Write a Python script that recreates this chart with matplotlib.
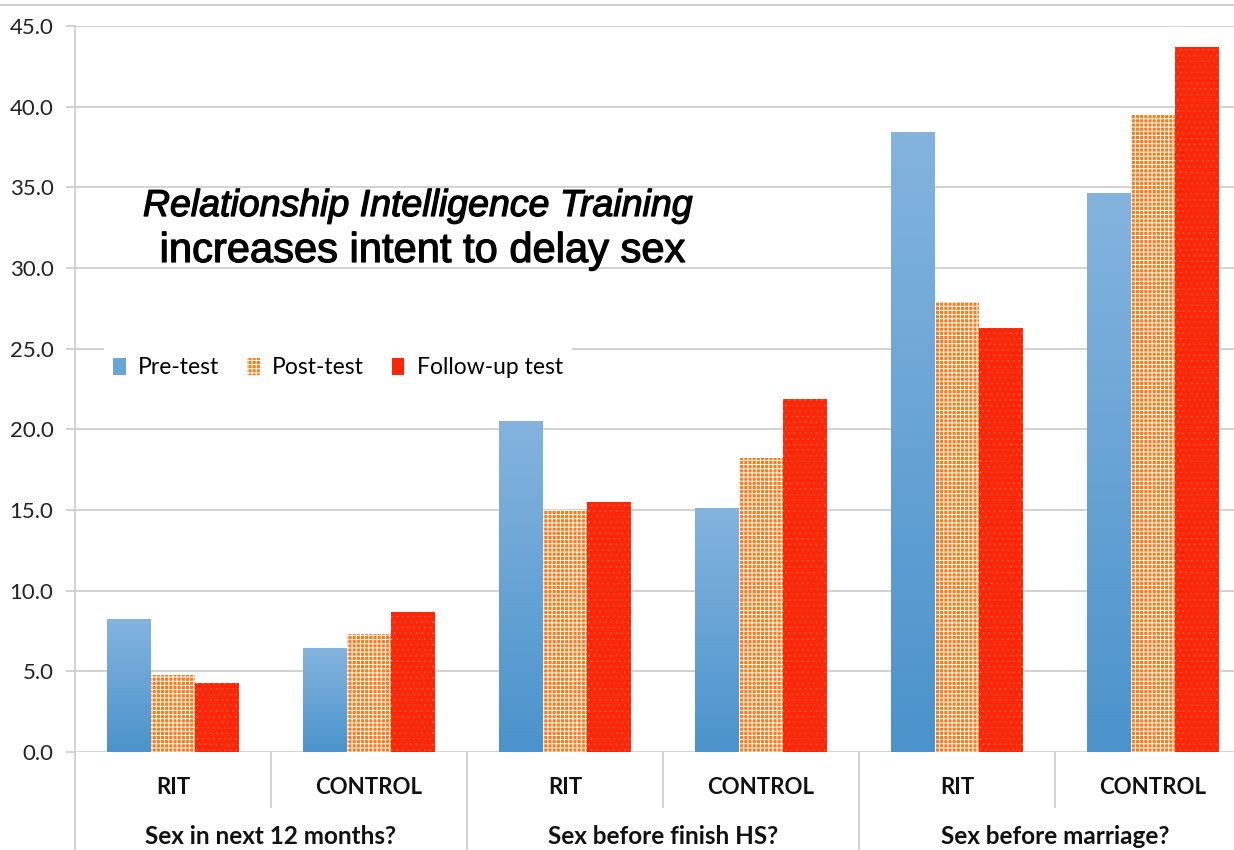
import numpy as np
import matplotlib
import matplotlib.pyplot as plt
from matplotlib.colors import LinearSegmentedColormap
from matplotlib.patches import Patch
from matplotlib.lines import Line2D
import matplotlib.transforms as mtransforms
import matplotlib.patheffects as pe

# values
groups = ["RIT", "CONTROL", "RIT", "CONTROL", "RIT", "CONTROL"]
questions = ["Sex in next 12 months?", "Sex before finish HS?", "Sex before marriage?"]
series = ["Pre-test", "Post-test", "Follow-up test"]
pre_test = [8.2, 6.4, 20.5, 15.1, 38.4, 34.6]
post_test = [4.8, 7.3, 15.0, 18.2, 27.9, 39.5]
follow_up = [4.3, 8.7, 15.5, 21.9, 26.3, 43.7]
y_ticks = [0, 5, 10, 15, 20, 25, 30, 35, 40, 45]

plt.rcParams['font.family'] = ['Lato', 'DejaVu Sans']
plt.rcParams['hatch.linewidth'] = 0.7

fig = plt.figure(figsize=(12.34, 8.5), dpi=100)
ax = fig.add_axes([75/1234, 98/850, 1176/1234, 726/850])

grid_col = '#cfcfcf'
x = np.arange(len(groups))
w = 0.224

# pre-test: blue gradient bars
blue_bars = ax.bar(x - w, pre_test, w, color='none', linewidth=0, zorder=3)
blue_cmap = LinearSegmentedColormap.from_list('bl', ['#4a93cc', '#84b4de'])
grad = np.linspace(0, 1, 200).reshape(-1, 1)
for b in blue_bars:
    x0, h = b.get_x(), b.get_height()
    ax.imshow(grad, extent=[x0, x0 + b.get_width(), 0, h], origin='lower',
              cmap=blue_cmap, aspect='auto', zorder=3)

# post-test: orange with white grid
ax.bar(x, post_test, w, color='#ff7a14', edgecolor='white', linewidth=0,
       hatch='++++', zorder=3)
# follow-up: red with faint dots
ax.bar(x + w, follow_up, w, color='#ff2608', edgecolor='#ff5a3c', linewidth=0,
       hatch='...', zorder=3)

ax.set_xlim(-0.5, 5.5)
ax.set_ylim(0, 45)
ax.set_yticks(y_ticks, [f"{v:.1f}" for v in y_ticks], fontsize=16, color='#222222')
ax.yaxis.grid(True, color=grid_col, linewidth=1.3, zorder=0)
ax.set_axisbelow(True)
ax.tick_params(axis='y', length=6.5, color=grid_col, width=1.3, pad=9)
ax.set_xticks(x, [])
ax.tick_params(axis='x', length=0)
for s in ['top', 'right', 'bottom']:
    ax.spines[s].set_visible(False)
ax.spines['left'].set_color(grid_col)
ax.spines['left'].set_linewidth(1.3)

# category labels and separators below the axis
trans = mtransforms.blended_transform_factory(ax.transData, ax.transAxes)
for i, g in enumerate(groups):
    ax.text(i, -36/726, g, transform=trans, ha='center', va='center',
            fontsize=16, fontweight='bold', color='#111111')
for j, q in enumerate(questions):
    ax.text(2*j + 0.5, -85/726, q, transform=trans, ha='center', va='center',
            fontsize=17.5, fontweight='bold', color='#111111')
for xs in [0.5, 2.5, 4.5]:
    ax.add_line(Line2D([xs, xs], [0, -55/726], transform=trans, color=grid_col,
                       linewidth=1.3, clip_on=False))
for xs in [-0.5, 1.5, 3.5]:
    ax.add_line(Line2D([xs, xs], [0, -110/726], transform=trans, color=grid_col,
                       linewidth=1.3, clip_on=False))

# title block
heavy = [pe.withStroke(linewidth=0.9, foreground='black')]
ax.text(418, 850 - 216, "Relationship Intelligence Training", transform=None,
        ha='center', va='baseline', fontsize=27, style='italic',
        family='Liberation Sans', color='black', path_effects=heavy)
ax.text(422, 850 - 262, "increases intent to delay sex", transform=None,
        ha='center', va='baseline', fontsize=30, family='Liberation Sans',
        color='black', path_effects=heavy)

# legend
handles = [Patch(facecolor='#6aa5d8', linewidth=0),
           Patch(facecolor='#ff7a14', edgecolor='white', linewidth=0, hatch='++++'),
           Patch(facecolor='#ff2608', linewidth=0)]
leg = ax.legend(handles, series, loc='center left',
                bbox_to_anchor=(104/1234, 1 - 368/850), bbox_transform=fig.transFigure,
                ncol=3, frameon=True, fontsize=16.5, handlelength=0.55, handleheight=0.75,
                handletextpad=0.55, columnspacing=1.2, borderaxespad=0, borderpad=0.4)
leg.get_frame().set_facecolor('white')
leg.get_frame().set_edgecolor('none')
leg.get_frame().set_alpha(1)
leg.get_frame().set_boxstyle('square', pad=0)

# thin border line at the top of the picture
fig.add_artist(Line2D([0, 1], [1 - 5/850, 1 - 5/850], transform=fig.transFigure,
                      color='#c8c8c8', linewidth=1.2))

fig.savefig('out.png', dpi=100)
